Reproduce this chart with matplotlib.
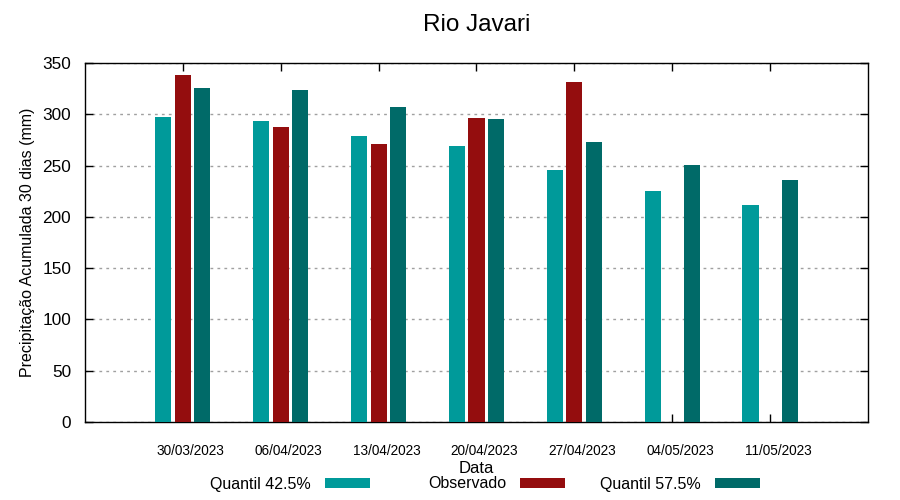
import matplotlib
matplotlib.use('Agg')
import matplotlib.pyplot as plt
import matplotlib.transforms as mtransforms
import numpy as np

plt.rcParams['font.family'] = ['Liberation Sans', 'DejaVu Sans']

# Dados (mm)
datas = ["30/03/2023", "06/04/2023", "13/04/2023", "20/04/2023",
         "27/04/2023", "04/05/2023", "11/05/2023"]
quantil_425 = [297, 293, 279, 269, 246, 225, 212]
observado = [338, 288, 271, 296, 331, np.nan, np.nan]
quantil_575 = [326, 324, 307, 295, 273, 251, 236]

cor_q1 = '#009a9a'
cor_obs = '#940d0e'
cor_q2 = '#006a68'

fig = plt.figure(figsize=(9, 5), dpi=100)
ax = fig.add_axes([0.0944, 0.156, 0.87, 0.718])

x = np.arange(len(datas))
w = 0.165
b1 = ax.bar(x - 0.2, quantil_425, w, color=cor_q1, label='Quantil 42.5%', zorder=3)
b2 = ax.bar(x, observado, w, color=cor_obs, label='Observado', zorder=3)
b3 = ax.bar(x + 0.2, quantil_575, w, color=cor_q2, label='Quantil 57.5%', zorder=3)

ax.set_xlim(-1, 7)
ax.set_ylim(0, 350)
ax.set_yticks(np.arange(0, 351, 50))
ax.set_xticks(x)
ax.set_xticklabels(datas, fontsize=9.8)
ax.tick_params(axis='y', direction='in', right=True, labelsize=12.4, length=6, width=1, pad=10)
ax.tick_params(axis='x', direction='in', top=True, length=6, width=1, pad=16)
# rótulos levemente deslocados para a direita
desloc = mtransforms.ScaledTranslation(8 / 100, 0, fig.dpi_scale_trans)
for lbl in ax.get_xticklabels():
    lbl.set_transform(lbl.get_transform() + desloc)
for s in ax.spines.values():
    s.set_linewidth(1)

ax.grid(axis='y', color='#a0a0a0', linestyle=(0, (2, 3)), linewidth=1, zorder=1)

ax.set_title("Rio Javari", fontsize=17.5, pad=23)
ax.set_xlabel("Data", fontsize=12, labelpad=2)
ax.set_ylabel("Precipitação Acumulada 30 dias (mm)", fontsize=11.5, labelpad=5)

# legenda estilo gnuplot: colunas de largura igual
for h, xr in zip([b1, b2, b3], [0.411, 0.628, 0.844]):
    fig.legend([h], [h.get_label()], loc='center right', bbox_to_anchor=(xr, 0.032),
               frameon=False, markerfirst=False, fontsize=11.5, handlelength=2.8,
               handleheight=0.65, handletextpad=0.9, borderpad=0, borderaxespad=0)

plt.savefig('out.png', dpi=100)
